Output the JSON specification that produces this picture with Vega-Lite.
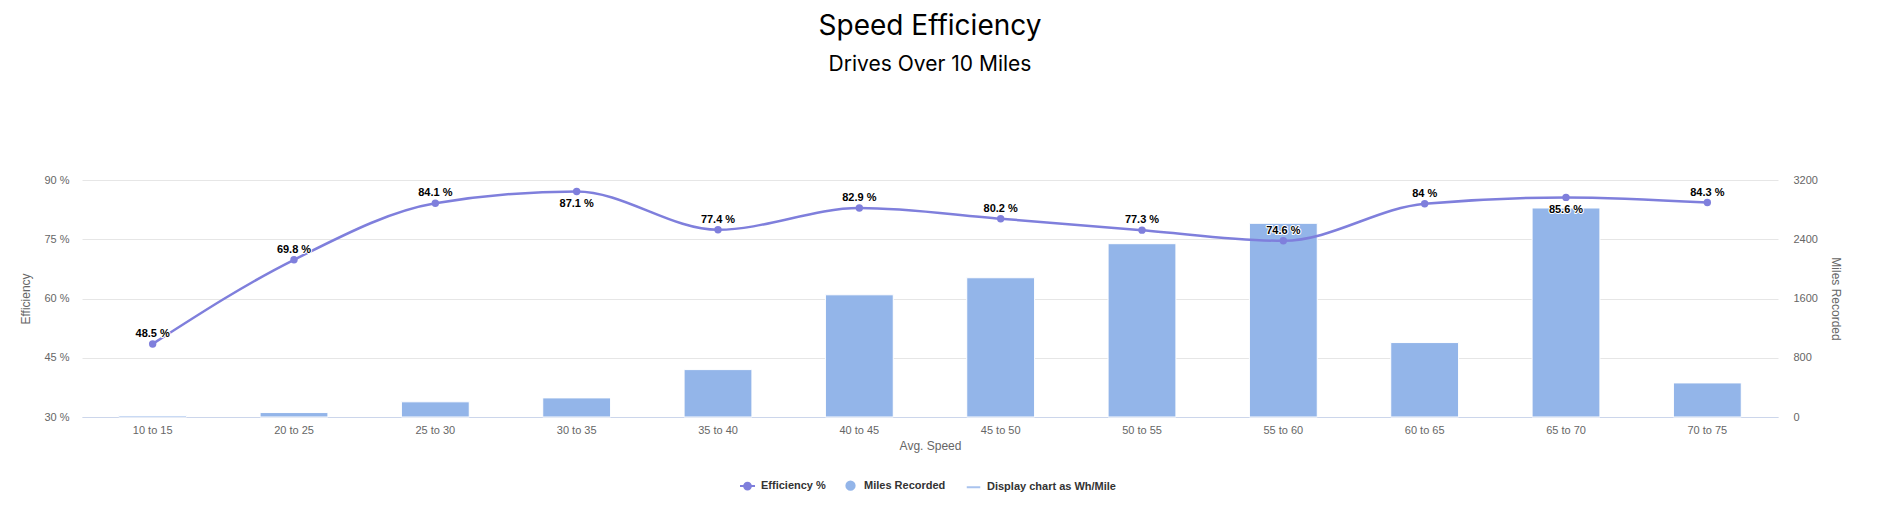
{
  "$schema": "https://vega.github.io/schema/vega-lite/v6.json",
  "width": 1696,
  "height": 237,
  "autosize": {"type": "none"},
  "padding": {"left": 82, "top": 180, "right": 122, "bottom": 103},
  "background": "white",
  "title": {
    "text": "Speed Efficiency",
    "subtitle": "Drives Over 10 Miles",
    "font": "Inter",
    "fontSize": 28,
    "fontWeight": 400,
    "color": "#000000",
    "subtitleFont": "Inter",
    "subtitleFontSize": 21,
    "subtitleFontWeight": 400,
    "subtitleColor": "#000000",
    "subtitlePadding": 13,
    "offset": 99,
    "anchor": "middle"
  },
  "data": {
    "values": [
      {"speed": "10 to 15", "eff": 48.5, "miles": 20, "label": "48.5 %"},
      {"speed": "20 to 25", "eff": 69.8, "miles": 60, "label": "69.8 %"},
      {"speed": "25 to 30", "eff": 84.1, "miles": 205, "label": "84.1 %"},
      {"speed": "30 to 35", "eff": 87.1, "miles": 258, "label": "87.1 %"},
      {"speed": "35 to 40", "eff": 77.4, "miles": 640, "label": "77.4 %"},
      {"speed": "40 to 45", "eff": 82.9, "miles": 1650, "label": "82.9 %"},
      {"speed": "45 to 50", "eff": 80.2, "miles": 1880, "label": "80.2 %"},
      {"speed": "50 to 55", "eff": 77.3, "miles": 2340, "label": "77.3 %"},
      {"speed": "55 to 60", "eff": 74.6, "miles": 2615, "label": "74.6 %"},
      {"speed": "60 to 65", "eff": 84, "miles": 1005, "label": "84 %"},
      {"speed": "65 to 70", "eff": 85.6, "miles": 2822, "label": "85.6 %"},
      {"speed": "70 to 75", "eff": 84.3, "miles": 460, "label": "84.3 %"}
    ]
  },
  "config": {
    "view": {"stroke": null},
    "axis": {
      "labelFont": "Liberation Sans",
      "labelFontSize": 11,
      "labelColor": "#666666",
      "titleFont": "Liberation Sans",
      "titleFontSize": 12,
      "titleFontWeight": "normal",
      "titleColor": "#666666",
      "ticks": false
    },
    "legend": {
      "orient": "none",
      "legendX": 657,
      "legendY": 297,
      "direction": "horizontal",
      "columns": 3,
      "labelFont": "Liberation Sans",
      "labelFontSize": 11,
      "labelFontWeight": "bold",
      "labelColor": "#333333",
      "symbolSize": 225,
      "symbolStrokeWidth": 2,
      "symbolOpacity": 1,
      "labelOffset": 5,
      "columnPadding": 16,
      "padding": 0
    }
  },
  "layer": [
    {
      "mark": {"type": "bar", "color": "#93b5e9", "stroke": "white", "strokeWidth": 1},
      "encoding": {
        "x": {
          "field": "speed", "type": "nominal", "sort": null,
          "scale": {"paddingInner": 0.52, "paddingOuter": 0.26},
          "axis": {"orient": "bottom", "title": "Avg. Speed", "labelAngle": 0, "domainColor": "#ccd6eb", "domainWidth": 1, "labelPadding": 7, "titlePadding": 5, "grid": false}
        },
        "y": {
          "field": "miles", "type": "quantitative",
          "scale": {"domain": [0, 3200], "nice": false},
          "axis": {"orient": "right", "title": "Miles Recorded", "values": [0, 800, 1600, 2400, 3200], "format": "d", "grid": false, "domain": false, "labelPadding": 15, "titleAngle": 90, "titlePadding": 11}
        }
      }
    },
    {
      "encoding": {
        "x": {
          "field": "speed", "type": "nominal", "sort": null,
          "scale": {"paddingInner": 0.52, "paddingOuter": 0.26},
          "axis": {"orient": "bottom", "title": "Avg. Speed", "labelAngle": 0, "domainColor": "#ccd6eb", "domainWidth": 1, "labelPadding": 7, "titlePadding": 5, "grid": false}
        },
        "y": {
          "field": "eff", "type": "quantitative",
          "scale": {"domain": [30, 90], "nice": false},
          "axis": {"orient": "left", "title": "Efficiency", "values": [30, 45, 60, 75, 90], "labelExpr": "datum.value + ' %'", "grid": true, "gridColor": "#e6e6e6", "gridWidth": 1, "domain": false, "labelPadding": 13, "titlePadding": 11}
        }
      },
      "layer": [
        {"mark": {"type": "line", "interpolate": "monotone", "color": "#7f7fdc", "strokeWidth": 2.5}},
        {"mark": {"type": "point", "filled": true, "size": 55, "color": "#7f7fdc", "opacity": 1}},
        {
          "transform": [{"filter": "datum.eff < 85"}],
          "mark": {"type": "text", "font": "Liberation Sans", "fontSize": 11, "fontWeight": "bold", "baseline": "alphabetic", "dy": -7, "color": "white", "stroke": "white", "strokeWidth": 2, "strokeJoin": "round"},
          "encoding": {"text": {"field": "label"}}
        },
        {
          "transform": [{"filter": "datum.eff < 85"}],
          "mark": {"type": "text", "font": "Liberation Sans", "fontSize": 11, "fontWeight": "bold", "baseline": "alphabetic", "dy": -7, "color": "#000000"},
          "encoding": {"text": {"field": "label"}}
        },
        {
          "transform": [{"filter": "datum.eff >= 85"}],
          "mark": {"type": "text", "font": "Liberation Sans", "fontSize": 11, "fontWeight": "bold", "baseline": "alphabetic", "dy": 16, "color": "white", "stroke": "white", "strokeWidth": 2, "strokeJoin": "round"},
          "encoding": {"text": {"field": "label"}}
        },
        {
          "transform": [{"filter": "datum.eff >= 85"}],
          "mark": {"type": "text", "font": "Liberation Sans", "fontSize": 11, "fontWeight": "bold", "baseline": "alphabetic", "dy": 16, "color": "#000000"},
          "encoding": {"text": {"field": "label"}}
        }
      ]
    },
    {
      "data": {"values": [{"series": "Efficiency %"}, {"series": "Miles Recorded"}, {"series": "Display chart as Wh/Mile"}]},
      "mark": {"type": "point", "filled": true, "opacity": 0},
      "encoding": {
        "color": {
          "field": "series", "type": "nominal", "title": null,
          "scale": {"domain": ["Efficiency %", "Miles Recorded", "Display chart as Wh/Mile"], "range": ["#7f7fdc", "#93b5e9", "#a9c3ee"]},
          "legend": {"title": null, "encode": {"symbols": {"update": {"fill": {"scale": "color", "field": "value"}, "stroke": {"scale": "color", "field": "value"}, "opacity": {"value": 1}, "strokeWidth": {"value": 2}}}}}
        },
        "shape": {
          "field": "series", "type": "nominal", "title": null,
          "scale": {"domain": ["Efficiency %", "Miles Recorded", "Display chart as Wh/Mile"], "range": ["M-1,0L1,0M-0.45,0A0.45,0.45 0 1,0 0.45,0A0.45,0.45 0 1,0 -0.45,0Z", "M-0.55,0A0.55,0.55 0 1,0 0.55,0A0.55,0.55 0 1,0 -0.55,0Z", "M-0.9,0L0.9,0"]},
          "legend": {"title": null, "encode": {"symbols": {"update": {"fill": {"scale": "color", "field": "value"}, "stroke": {"scale": "color", "field": "value"}, "opacity": {"value": 1}, "strokeWidth": {"value": 2}}}}}
        }
      }
    }
  ],
  "resolve": {"scale": {"y": "independent"}}
}
